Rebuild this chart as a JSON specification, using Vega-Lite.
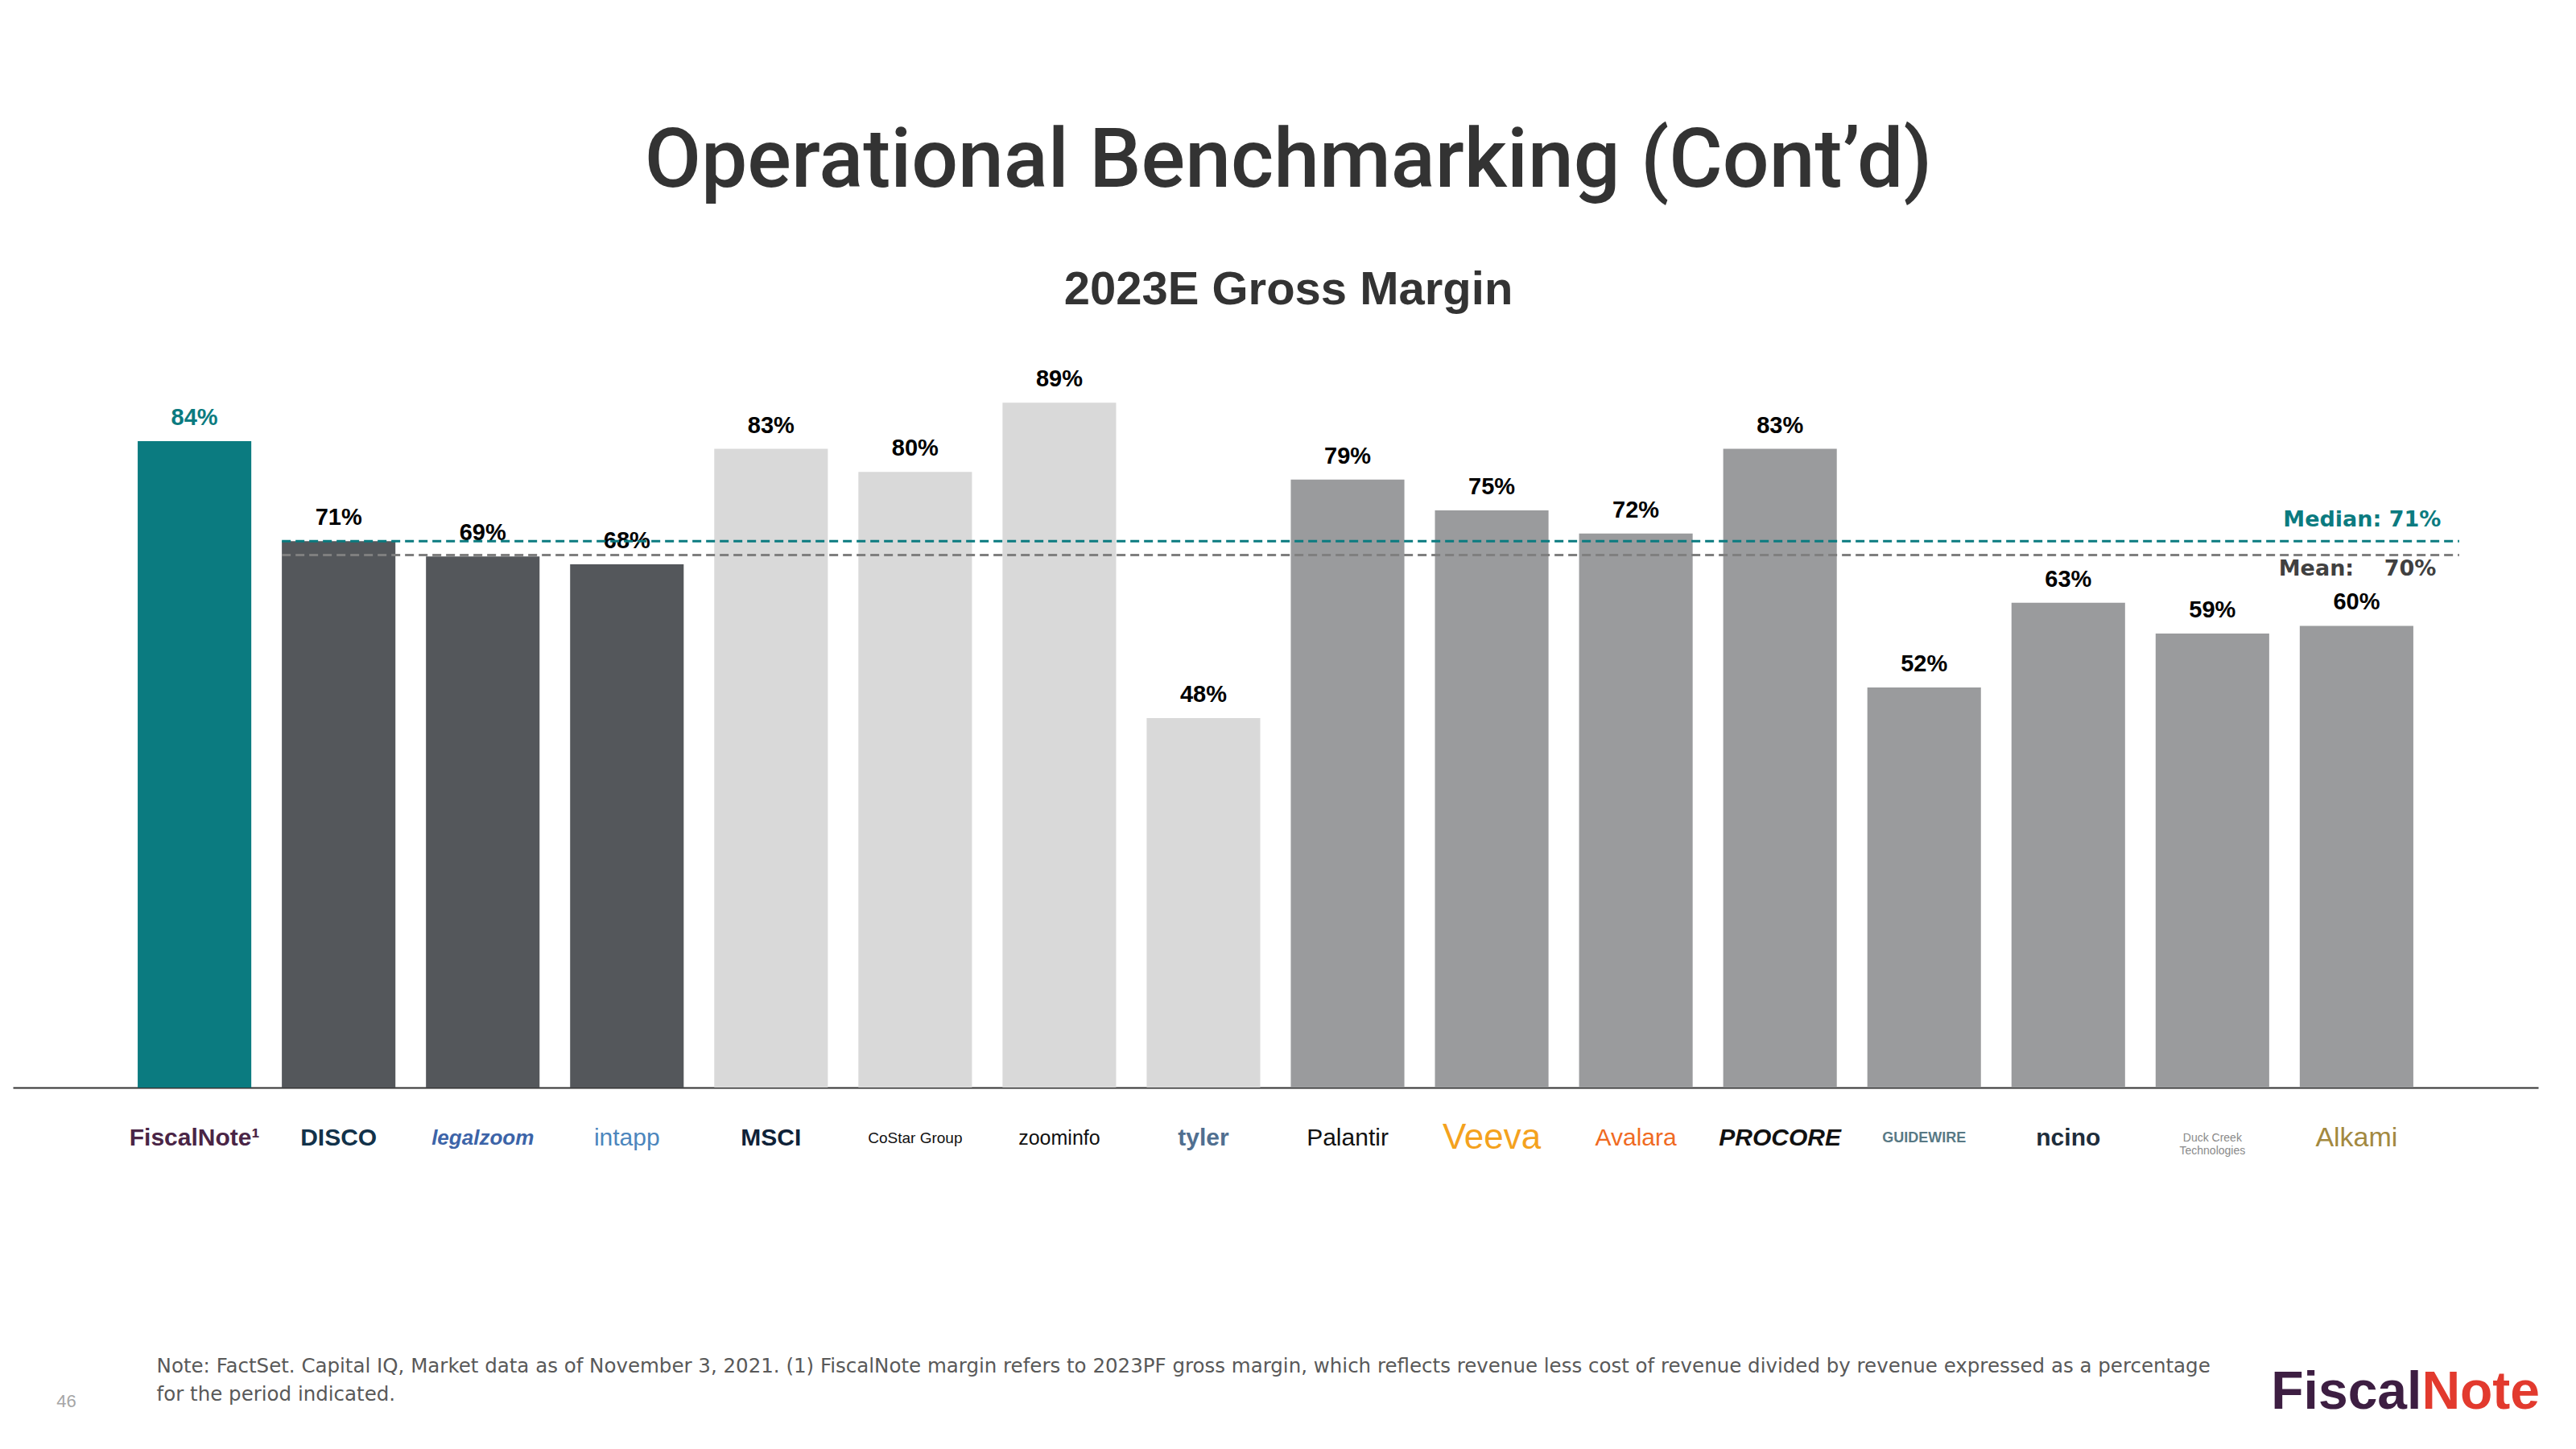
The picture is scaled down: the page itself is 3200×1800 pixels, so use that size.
{
  "$schema": "https://vega.github.io/schema/vega-lite/v6.json",
  "width": 3137,
  "height": 956,
  "autosize": {"type": "none"},
  "padding": {"left": 16, "top": 395, "right": 47, "bottom": 449},
  "background": "#ffffff",
  "config": {"view": {"stroke": null}},
  "title": {
    "text": "Operational Benchmarking (Cont’d)",
    "subtitle": "2023E Gross Margin",
    "anchor": "middle",
    "dx": 16,
    "font": "Roboto",
    "fontSize": 102,
    "fontWeight": 500,
    "color": "#333333",
    "subtitleFont": "Liberation Sans",
    "subtitleFontSize": 58,
    "subtitleFontWeight": "bold",
    "subtitleColor": "#333333",
    "subtitlePadding": 79,
    "offset": 4
  },
  "datasets": {
    "margins": [
      {"company": "FiscalNote", "group": "FiscalNote", "value": 84, "label": "84%"},
      {"company": "DISCO", "group": "Legal", "value": 71, "label": "71%"},
      {"company": "legalzoom", "group": "Legal", "value": 69, "label": "69%"},
      {"company": "intapp", "group": "Legal", "value": 68, "label": "68%"},
      {"company": "MSCI", "group": "Data", "value": 83, "label": "83%"},
      {"company": "CoStar Group", "group": "Data", "value": 80, "label": "80%"},
      {"company": "zoominfo", "group": "Data", "value": 89, "label": "89%"},
      {"company": "tyler", "group": "Data", "value": 48, "label": "48%"},
      {"company": "Palantir", "group": "SaaS", "value": 79, "label": "79%"},
      {"company": "Veeva", "group": "SaaS", "value": 75, "label": "75%"},
      {"company": "Avalara", "group": "SaaS", "value": 72, "label": "72%"},
      {"company": "PROCORE", "group": "SaaS", "value": 83, "label": "83%"},
      {"company": "GUIDEWIRE", "group": "SaaS", "value": 52, "label": "52%"},
      {"company": "ncino", "group": "SaaS", "value": 63, "label": "63%"},
      {"company": "Duck Creek Technologies", "group": "SaaS", "value": 59, "label": "59%"},
      {"company": "Alkami", "group": "SaaS", "value": 60, "label": "60%"}
    ],
    "stats": [
      {"stat": "Median", "value": 71, "label": "Median: 71%"},
      {"stat": "Mean", "value": 69.2, "label": "Mean:\u00a0\u00a0\u00a0\u00a070%"}
    ],
    "notes": [
      {"id": "note", "text": ["Note: FactSet. Capital IQ, Market data as of November 3, 2021. (1) FiscalNote margin refers to 2023PF gross margin, which reflects revenue less cost of revenue divided by revenue expressed as a percentage", "for the period indicated."]},
      {"id": "page", "text": "46"},
      {"id": "logo1", "text": "Fiscal"},
      {"id": "logo2", "text": "Note"}
    ]
  },
  "layer": [
    {
      "data": {"name": "margins"},
      "mark": {"type": "bar"},
      "encoding": {
        "x": {
          "field": "company",
          "type": "nominal",
          "sort": null,
          "scale": {"paddingInner": 0.212, "paddingOuter": 0.866},
          "axis": {
            "title": null,
            "ticks": false,
            "domainColor": "#333333",
            "domainWidth": 2,
            "labelAngle": 0,
            "labelOverlap": false,
            "labelPadding": 62,
            "labelBaseline": "middle",
            "labelLineHeight": 16,
            "labelFont": "Liberation Sans",
            "labelExpr": "datum.value == 'Duck Creek Technologies' ? ['Duck Creek', 'Technologies'] : datum.value == 'FiscalNote' ? 'FiscalNote¹' : datum.value",
            "labelFontSize": {
              "condition": [
                {"test": "datum.value == 'CoStar Group'", "value": 19},
                {"test": "datum.value == 'GUIDEWIRE'", "value": 18},
                {"test": "datum.value == 'Duck Creek Technologies'", "value": 14},
                {"test": "datum.value == 'zoominfo'", "value": 25},
                {"test": "datum.value == 'Veeva'", "value": 44},
                {"test": "datum.value == 'legalzoom'", "value": 26},
                {"test": "datum.value == 'Alkami'", "value": 34}
              ],
              "value": 30
            },
            "labelFontWeight": {
              "condition": [
                {"test": "datum.value == 'FiscalNote' || datum.value == 'DISCO' || datum.value == 'MSCI' || datum.value == 'PROCORE' || datum.value == 'ncino' || datum.value == 'GUIDEWIRE' || datum.value == 'legalzoom' || datum.value == 'tyler'", "value": "bold"}
              ],
              "value": "normal"
            },
            "labelFontStyle": {
              "condition": [
                {"test": "datum.value == 'legalzoom' || datum.value == 'PROCORE'", "value": "italic"}
              ],
              "value": "normal"
            },
            "labelColor": {
              "condition": [
                {"test": "datum.value == 'FiscalNote'", "value": "#4A2546"},
                {"test": "datum.value == 'DISCO'", "value": "#12324A"},
                {"test": "datum.value == 'legalzoom'", "value": "#3C64A8"},
                {"test": "datum.value == 'intapp'", "value": "#4C86BD"},
                {"test": "datum.value == 'MSCI'", "value": "#0F2238"},
                {"test": "datum.value == 'tyler'", "value": "#506F90"},
                {"test": "datum.value == 'Veeva'", "value": "#F4A21E"},
                {"test": "datum.value == 'Avalara'", "value": "#F06A22"},
                {"test": "datum.value == 'GUIDEWIRE'", "value": "#587985"},
                {"test": "datum.value == 'ncino'", "value": "#1E2D3B"},
                {"test": "datum.value == 'Duck Creek Technologies'", "value": "#8A8A8A"},
                {"test": "datum.value == 'Alkami'", "value": "#A3893F"}
              ],
              "value": "#111111"
            }
          }
        },
        "y": {
          "field": "value",
          "type": "quantitative",
          "scale": {"domain": [0, 100], "nice": false},
          "axis": null
        },
        "color": {
          "field": "group",
          "type": "nominal",
          "scale": {"domain": ["FiscalNote", "Legal", "Data", "SaaS"], "range": ["#0B7B80", "#54575B", "#D9D9D9", "#9A9B9D"]},
          "legend": null
        }
      }
    },
    {
      "data": {"name": "margins"},
      "mark": {"type": "text", "font": "Liberation Sans", "fontWeight": "bold", "fontSize": 29, "baseline": "alphabetic", "dy": -20},
      "encoding": {
        "x": {"field": "company", "type": "nominal", "sort": null},
        "y": {"field": "value", "type": "quantitative"},
        "text": {"field": "label"},
        "color": {"condition": {"test": "datum.company == 'FiscalNote'", "value": "#0B7B80"}, "value": "#000000"}
      }
    },
    {
      "data": {"name": "stats"},
      "mark": {"type": "rule", "strokeDash": [11, 6], "strokeWidth": 3, "xOffset": -70.5, "x2Offset": 127.5},
      "encoding": {
        "x": {"datum": "DISCO"},
        "x2": {"datum": "Alkami"},
        "y": {"field": "value", "type": "quantitative"},
        "color": {"condition": {"test": "datum.stat == 'Median'", "value": "#0B7B80"}, "value": "#7F7F7F"}
      }
    },
    {
      "data": {"name": "stats"},
      "transform": [{"filter": "datum.stat == 'Median'"}],
      "mark": {"type": "text", "font": "DejaVu Sans", "fontWeight": "bold", "fontSize": 27, "align": "right", "baseline": "middle", "dx": 105, "dy": -26, "color": "#0B7B80"},
      "encoding": {
        "x": {"datum": "Alkami"},
        "y": {"field": "value", "type": "quantitative"},
        "text": {"field": "label"}
      }
    },
    {
      "data": {"name": "stats"},
      "transform": [{"filter": "datum.stat == 'Mean'"}],
      "mark": {"type": "text", "font": "DejaVu Sans", "fontWeight": "bold", "fontSize": 27, "align": "right", "baseline": "middle", "dx": 99, "dy": 18, "color": "#404040"},
      "encoding": {
        "x": {"datum": "Alkami"},
        "y": {"field": "value", "type": "quantitative"},
        "text": {"field": "label"}
      }
    },
    {
      "data": {"name": "notes"},
      "transform": [{"filter": "datum.id == 'note'"}],
      "mark": {"type": "text", "font": "DejaVu Sans", "fontSize": 24.5, "align": "left", "baseline": "middle", "lineHeight": 35, "dx": -47, "color": "#595959"},
      "encoding": {
        "x": {"datum": "FiscalNote"},
        "y": {"datum": -36.3},
        "text": {"field": "text"}
      }
    },
    {
      "data": {"name": "notes"},
      "transform": [{"filter": "datum.id == 'page'"}],
      "mark": {"type": "text", "font": "Liberation Sans", "fontSize": 22, "align": "center", "baseline": "middle", "dx": -159, "color": "#A6A6A6"},
      "encoding": {
        "x": {"datum": "FiscalNote"},
        "y": {"datum": -40.8},
        "text": {"field": "text"}
      }
    },
    {
      "data": {"name": "notes"},
      "transform": [{"filter": "datum.id == 'logo1'"}],
      "mark": {"type": "text", "font": "Liberation Sans", "fontWeight": "bold", "fontSize": 66, "align": "right", "baseline": "middle", "dx": 81, "color": "#3D1E42"},
      "encoding": {
        "x": {"datum": "Alkami"},
        "y": {"datum": -39.6},
        "text": {"field": "text"}
      }
    },
    {
      "data": {"name": "notes"},
      "transform": [{"filter": "datum.id == 'logo2'"}],
      "mark": {"type": "text", "font": "Liberation Sans", "fontWeight": "bold", "fontSize": 66, "align": "left", "baseline": "middle", "dx": 81, "color": "#E23A2E"},
      "encoding": {
        "x": {"datum": "Alkami"},
        "y": {"datum": -39.6},
        "text": {"field": "text"}
      }
    }
  ]
}
